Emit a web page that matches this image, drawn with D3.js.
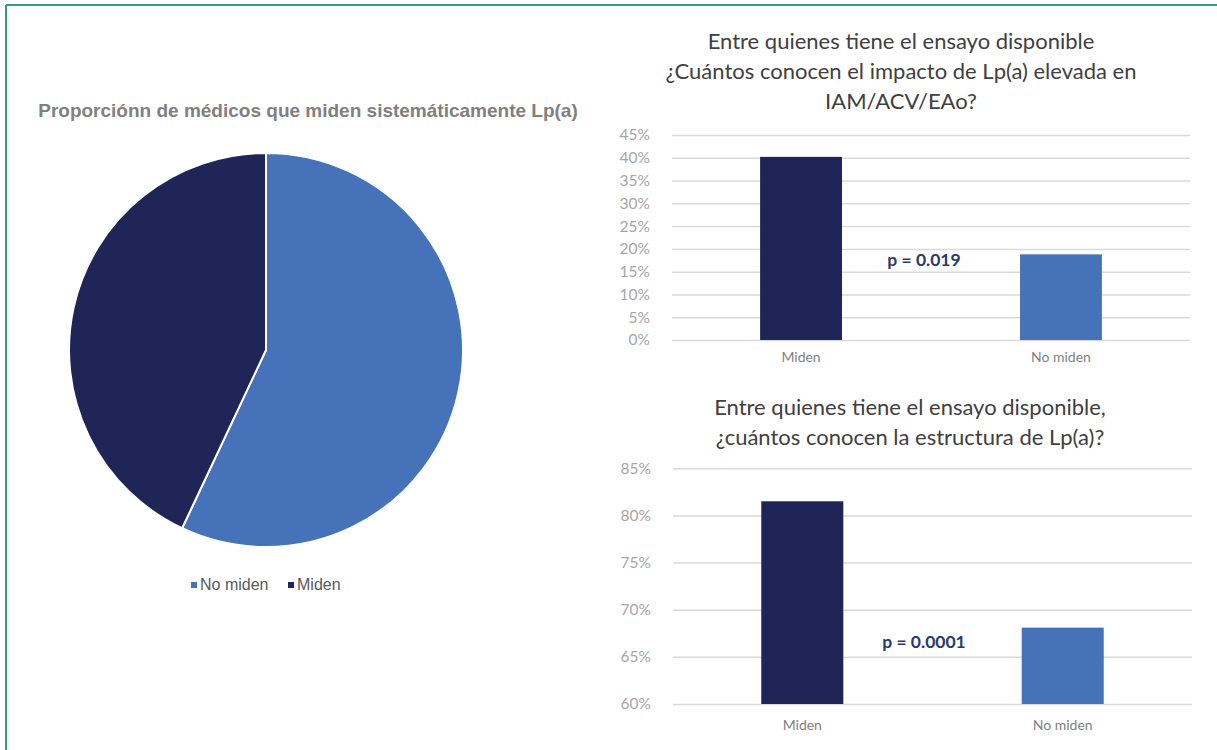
<!DOCTYPE html>
<html>
<head>
<meta charset="utf-8">
<script src="https://cdn.jsdelivr.net/npm/d3@7"></script>
<style>
  body { margin: 0; background: #fff; }
  svg { display: block; }
</style>
</head>
<body>
<script>
// data
var pieCats = ["No miden", "Miden"];
var pieValues = [57, 43];

var barCats = ["Miden", "No miden"];
var impactValues = [40.2, 18.8];   // % conocen impacto en IAM/ACV/EAo
var structValues = [81.5, 68.1];   // % conocen estructura de Lp(a)
var impactTicks = [0, 5, 10, 15, 20, 25, 30, 35, 40, 45];
var structTicks = [60, 65, 70, 75, 80, 85];

var dark = "#1f2557", light = "#4672b9";
var colors = { "Miden": dark, "No miden": light };

var w = 1217, h = 750;
var svg = d3.select("body").append("svg").attr("width", w).attr("height", h);

// green frame (top and left only)
svg.append("line").attr("x1", 6).attr("y1", 5).attr("x2", w).attr("y2", 5)
  .attr("stroke", "#3a9c76").attr("stroke-width", 2);
svg.append("line").attr("x1", 6).attr("y1", 5).attr("x2", 6).attr("y2", h)
  .attr("stroke", "#3a9c76").attr("stroke-width", 2);

// ---- pie ----
svg.append("text").attr("x", 308).attr("y", 117).attr("text-anchor", "middle")
  .style("font-family", "Liberation Sans, Arial, sans-serif").style("font-weight", "bold")
  .style("font-size", "19px").style("fill", "#808080")
  .text("Proporciónn de médicos que miden sistemáticamente Lp(a)");

var pie = d3.pie().sort(null).value(function (d) { return d.v; });
var arc = d3.arc().innerRadius(0).outerRadius(197);
var pieData = pieCats.map(function (c, i) { return { c: c, v: pieValues[i] }; });

svg.append("g").attr("transform", "translate(266,350)")
  .selectAll("path").data(pie(pieData)).enter().append("path")
  .attr("d", arc)
  .attr("fill", function (d) { return colors[d.data.c]; })
  .attr("stroke", "#fff").attr("stroke-width", 2);

// legend
var legX = [191, 288];
var leg = svg.append("g").selectAll("g").data(pieCats).enter().append("g")
  .attr("transform", function (d, i) { return "translate(" + legX[i] + ",0)"; });
leg.append("rect").attr("x", 0).attr("y", 582).attr("width", 6).attr("height", 6)
  .attr("fill", function (d) { return colors[d]; });
leg.append("text").attr("x", 9).attr("y", 590)
  .style("font-family", "Liberation Sans, Arial, sans-serif").style("font-size", "16px")
  .style("fill", "#595959").text(function (d) { return d; });

// ---- bar charts ----
function barChart(opt) {
  var g = svg.append("g");
  var x = d3.scaleBand().domain(barCats).range([opt.x0, opt.x1])
    .paddingInner(0.685).paddingOuter(0.339);
  var y = d3.scaleLinear().domain(opt.domain).range([opt.yBottom, opt.yTop]);

  // title
  var t = g.append("text").attr("text-anchor", "middle")
    .style("font-family", "Lato, sans-serif").style("font-size", "22px").style("fill", "#404040");
  opt.title.forEach(function (line, i) {
    t.append("tspan").attr("x", opt.titleX).attr("y", opt.titleY + i * 30).text(line);
  });

  // gridlines
  g.append("g").attr("transform", "translate(" + opt.x0 + ",0)")
    .call(d3.axisRight(y).tickValues(opt.ticks).tickSize(opt.x1 - opt.x0).tickFormat(""))
    .call(function (a) {
      a.select(".domain").remove();
      a.selectAll("line").attr("stroke", "#d9d9d9").attr("stroke-width", 1.5);
    });

  // y labels
  g.append("g").attr("transform", "translate(" + opt.x0 + ",0)")
    .call(d3.axisLeft(y).tickValues(opt.ticks).tickSize(0).tickPadding(22)
      .tickFormat(function (d) { return d + "%"; }))
    .call(function (a) {
      a.select(".domain").remove();
      a.selectAll("text").style("font-family", "Lato, sans-serif")
        .style("font-size", "15.5px").style("fill", "#a6a6a6");
    });

  // bars
  var vals = opt.values;
  g.selectAll("rect.bar").data(barCats).enter().append("rect").attr("class", "bar")
    .attr("x", function (d) { return x(d); })
    .attr("width", x.bandwidth())
    .attr("y", function (d, i) { return y(vals[i]); })
    .attr("height", function (d, i) { return y(opt.domain[0]) - y(vals[i]); })
    .attr("fill", function (d) { return colors[d]; });

  // category labels
  g.append("g").attr("transform", "translate(0," + opt.yBottom + ")")
    .call(d3.axisBottom(x).tickSize(0).tickPadding(opt.catPad))
    .call(function (a) {
      a.select(".domain").remove();
      a.selectAll("text").style("font-family", "Lato, sans-serif")
        .style("font-size", "14px").style("fill", "#7f7f7f");
    });

  // p value
  g.append("text").attr("x", opt.pX).attr("y", opt.pY).attr("text-anchor", "middle")
    .style("font-family", "Lato, sans-serif").style("font-weight", "bold")
    .style("font-size", "17.5px").style("fill", "#2b3a6e").text(opt.p);
}

barChart({
  title: ["Entre quienes tiene el ensayo disponible",
          "¿Cuántos conocen el impacto de Lp(a) elevada en",
          "IAM/ACV/EAo?"],
  titleX: 901, titleY: 49,
  x0: 672, x1: 1190, yBottom: 340, yTop: 135,
  domain: [0, 45], ticks: impactTicks, values: impactValues,
  catPad: 12, p: "p = 0.019", pX: 924, pY: 266
});

barChart({
  title: ["Entre quienes tiene el ensayo disponible,",
          "¿cuántos conocen la estructura de Lp(a)?"],
  titleX: 910, titleY: 415,
  x0: 673, x1: 1192, yBottom: 704, yTop: 468.3,
  domain: [60, 85], ticks: structTicks, values: structValues,
  catPad: 16, p: "p = 0.0001", pX: 924, pY: 648
});
</script>
</body>
</html>
